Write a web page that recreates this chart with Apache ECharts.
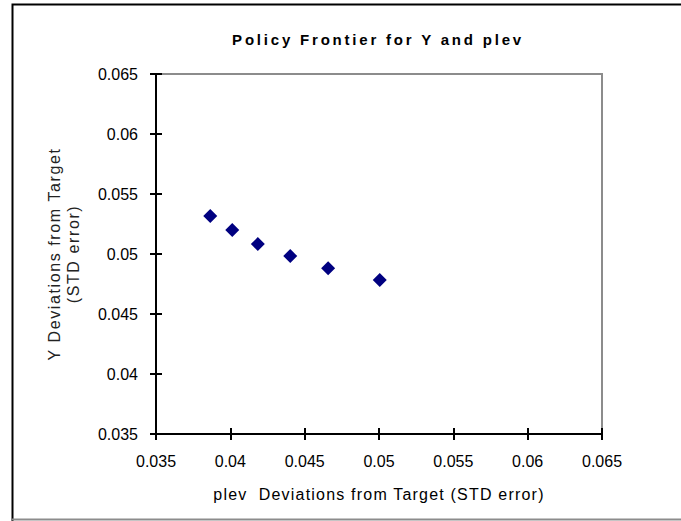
<!DOCTYPE html>
<html>
<head>
<meta charset="utf-8">
<script src="https://cdn.jsdelivr.net/npm/echarts@6/dist/echarts.min.js"></script>
<style>
  html, body { margin: 0; padding: 0; background: #fff; }
  #chart { width: 681px; height: 521px; }
</style>
</head>
<body>
<div id="chart"></div>
<script>
// Policy frontier: plev deviation (x) against Y deviation (y), both as STD error
const plevStd = [0.03865, 0.04013, 0.04185, 0.04403, 0.04658, 0.05005];
const yStd    = [0.05317, 0.05200, 0.05083, 0.04983, 0.04881, 0.04783];

const axisMin = 0.035;
const axisMax = 0.065;
const axisStep = 0.005;

const titleText = 'Policy Frontier for Y and plev';
const xName = 'plev  Deviations from Target (STD error)';
const yNameLines = ['Y Deviations from Target', '(STD error)'];

const points = plevStd.map((x, i) => [x, yStd[i]]);
const fmt = v => String(Math.round(v * 1000) / 1000);
const font = 'Liberation Sans, Arial, sans-serif';

const chart = echarts.init(document.getElementById('chart'), null, { renderer: 'svg' });

// Main axis with outward ticks and labels, plus a twin with inward ticks so the ticks cross the line
function valueAxis(pos, main) {
  return {
    type: 'value',
    position: pos,
    min: axisMin,
    max: axisMax,
    interval: axisStep,
    splitLine: { show: false },
    axisLine: { show: main, lineStyle: { color: '#000', width: 2 } },
    axisTick: { show: true, inside: !main, length: 6, lineStyle: { color: '#000', width: 2 } },
    axisLabel: {
      show: main,
      formatter: fmt,
      color: '#000',
      fontFamily: font,
      fontSize: 16,
      margin: pos === 'left' ? 18 : 19,
      showMinLabel: true,
      showMaxLabel: true
    }
  };
}

const xMain = valueAxis('bottom', true);
xMain.name = xName;
xMain.nameLocation = 'middle';
xMain.nameGap = 52;
xMain.nameTextStyle = { color: '#000', fontFamily: font, fontSize: 16 };

const yMain = valueAxis('left', true);
yMain.name = yNameLines.join('\n');
yMain.nameLocation = 'middle';
yMain.nameGap = 73;
yMain.nameTextStyle = { color: '#222', fontFamily: font, fontSize: 16, lineHeight: 19 };

chart.setOption({
  animation: false,
  backgroundColor: '#fff',
  title: {
    text: titleText,
    left: 373,
    top: 27,
    textAlign: 'center',
    textStyle: { color: '#000', fontFamily: font, fontSize: 15, fontWeight: 'bold' }
  },
  graphic: [
    {
      type: 'polyline',
      silent: true,
      shape: { points: [[12.5, 540], [12.5, 4.5], [700, 4.5]] },
      style: { stroke: '#000', lineWidth: 2, fill: null }
    },
    {
      type: 'line',
      silent: true,
      shape: { x1: 12, y1: 519.5, x2: 700, y2: 519.5 },
      style: { stroke: '#8c8c8c', lineWidth: 2 }
    }
  ],
  grid: {
    left: 156,
    top: 74,
    width: 446,
    height: 360,
    show: true,
    borderColor: '#8c8c8c',
    borderWidth: 2,
    backgroundColor: '#fff'
  },
  xAxis: [xMain, valueAxis('bottom', false)],
  yAxis: [yMain, valueAxis('left', false)],
  series: [
    {
      type: 'scatter',
      xAxisIndex: 0,
      yAxisIndex: 0,
      symbol: 'diamond',
      symbolSize: 14,
      itemStyle: { color: '#000080', opacity: 1 },
      data: points
    }
  ]
});

// Letter spacing of the heading and the axis titles
const spacing = new Map([
  [titleText, '2.8'],
  [xName, '1.2'],
  [yNameLines[0], '1.6'],
  [yNameLines[1], '1.6']
]);
document.querySelectorAll('#chart text, #chart tspan').forEach(t => {
  const s = spacing.get(t.textContent);
  if (s) t.setAttribute('letter-spacing', s);
});
</script>
</body>
</html>
